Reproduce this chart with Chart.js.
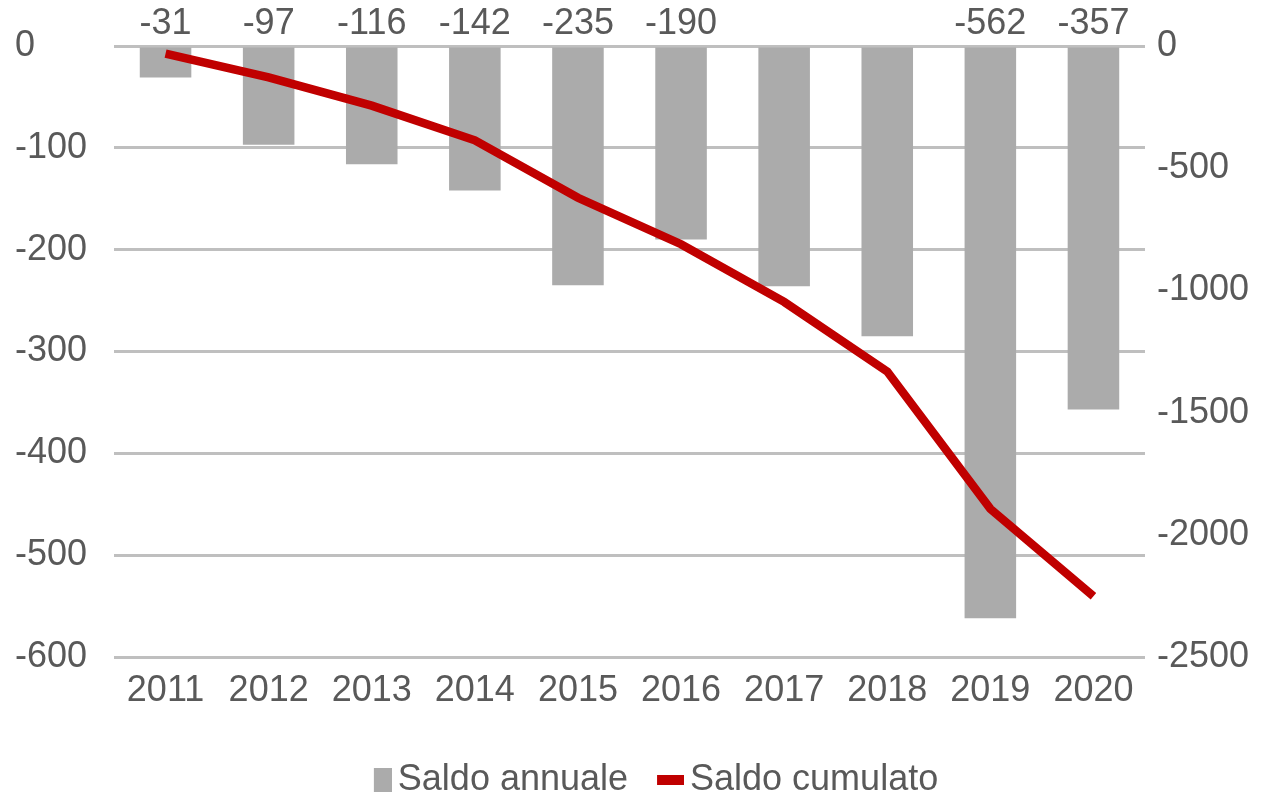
<!DOCTYPE html>
<html>
<head>
<meta charset="utf-8">
<script src="https://cdn.jsdelivr.net/npm/chart.js@4.4.1/dist/chart.umd.min.js"></script>
<style>
  html, body { margin: 0; padding: 0; background: #ffffff; }
  #wrap { width: 1261px; height: 798px; position: relative; }
</style>
</head>
<body>
<div id="wrap"><canvas id="chart"></canvas></div>
<script>
// Years on the category axis
const years = ['2011', '2012', '2013', '2014', '2015', '2016', '2017', '2018', '2019', '2020'];
// Yearly balance (left axis)
const annualBalance = [-31, -97, -116, -142, -235, -190, -236, -285, -562, -357];
// Running balance (right axis)
const cumulativeBalance = [-31, -128, -244, -386, -621, -811, -1047, -1332, -1894, -2251];
// Which bars carry a value label above the plot
const annualLabelShown = [true, true, true, true, true, true, false, false, true, true];
// Axis ticks
const leftAxisTicks = [0, -100, -200, -300, -400, -500, -600];
const rightAxisTicks = [0, -500, -1000, -1500, -2000, -2500];
const seriesNames = ['Saldo annuale', 'Saldo cumulato'];

const TEXT = '#595959';
const BAR = '#ababab';
const LINE = '#c00000';
const GRID = '#bfbfbf';
const FONT = "'Liberation Sans', Arial, sans-serif";
const FS = 36;
const MARKER_SLOT = 42;

Chart.defaults.font.family = FONT;
Chart.defaults.font.size = FS;
Chart.defaults.color = TEXT;

// Legend markers: a grey square and a short red bar, right-aligned just before the text
function legendIcon(rectW, rectH, color) {
  const c = document.createElement('canvas');
  const w = MARKER_SLOT + 24;
  c.width = w;
  c.height = rectH;
  const g = c.getContext('2d');
  g.fillStyle = color;
  g.fillRect(w - rectW, 0, rectW, rectH);
  return c;
}
const barIcon = legendIcon(18, 24, BAR);
const lineIcon = legendIcon(27, 10, LINE);

// Value labels above the bars
const valueLabels = {
  id: 'valueLabels',
  afterDatasetsDraw(chart) {
    const meta = chart.getDatasetMeta(0);
    const ctx = chart.ctx;
    const top = chart.chartArea.top;
    ctx.save();
    ctx.font = FS + 'px ' + FONT;
    ctx.fillStyle = TEXT;
    ctx.textAlign = 'center';
    ctx.textBaseline = 'middle';
    meta.data.forEach((bar, i) => {
      if (!annualLabelShown[i]) return;
      ctx.fillText(String(annualBalance[i]), bar.x, top - 22);
    });
    ctx.restore();
  }
};

const plainNumber = v => String(v);

new Chart(document.getElementById('chart'), {
  type: 'bar',
  data: {
    labels: years,
    datasets: [
      {
        type: 'bar',
        label: seriesNames[0],
        data: annualBalance,
        backgroundColor: BAR,
        borderWidth: 0,
        barPercentage: 0.5,
        categoryPercentage: 1,
        yAxisID: 'y',
        order: 2
      },
      {
        type: 'line',
        label: seriesNames[1],
        data: cumulativeBalance,
        borderColor: LINE,
        backgroundColor: LINE,
        borderWidth: 8.5,
        pointRadius: 0,
        tension: 0,
        fill: false,
        yAxisID: 'y2',
        order: 1
      }
    ]
  },
  options: {
    responsive: true,
    maintainAspectRatio: false,
    animation: false,
    events: [],
    layout: { padding: { top: 46, left: 15, right: 0, bottom: -10 } },
    plugins: {
      tooltip: { enabled: false },
      legend: {
        position: 'bottom',
        labels: {
          usePointStyle: true,
          pointStyleWidth: MARKER_SLOT,
          padding: 2,
          color: TEXT,
          font: { size: FS },
          generateLabels() {
            return [
              { text: seriesNames[0], pointStyle: barIcon, fillStyle: BAR, strokeStyle: BAR, fontColor: TEXT, lineWidth: 0, datasetIndex: 0 },
              { text: seriesNames[1], pointStyle: lineIcon, fillStyle: LINE, strokeStyle: LINE, fontColor: TEXT, lineWidth: 0, datasetIndex: 1 }
            ];
          }
        }
      }
    },
    scales: {
      x: {
        grid: { display: false, drawTicks: false },
        border: { display: false },
        ticks: { padding: 12, color: TEXT, font: { size: FS } },
        afterFit(scale) { scale.height = 103; }
      },
      y: {
        position: 'left',
        min: leftAxisTicks[leftAxisTicks.length - 1],
        max: leftAxisTicks[0],
        afterBuildTicks(scale) { scale.ticks = leftAxisTicks.map(v => ({ value: v })); },
        grid: { color: GRID, lineWidth: 3, drawTicks: false },
        border: { display: false },
        ticks: { crossAlign: 'far', padding: 20, color: TEXT, font: { size: FS }, callback: plainNumber },
        afterFit(scale) { scale.width = 99; }
      },
      y2: {
        position: 'right',
        min: rightAxisTicks[rightAxisTicks.length - 1],
        max: rightAxisTicks[0],
        afterBuildTicks(scale) { scale.ticks = rightAxisTicks.map(v => ({ value: v })); },
        grid: { display: false, drawTicks: false },
        border: { display: false },
        ticks: { padding: 12, color: TEXT, font: { size: FS }, callback: plainNumber },
        afterFit(scale) { scale.width = 116; }
      }
    }
  },
  plugins: [valueLabels]
});
</script>
</body>
</html>
